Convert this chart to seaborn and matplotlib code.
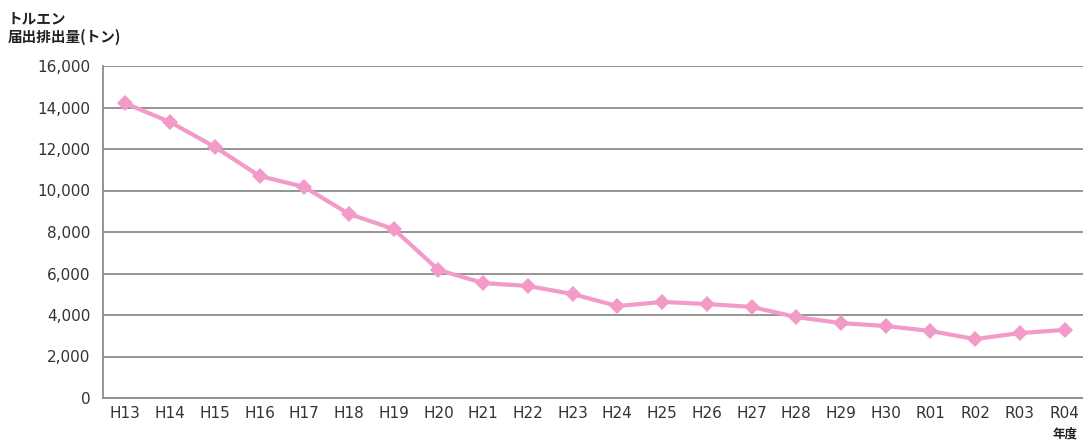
import numpy as np
import pandas as pd
import matplotlib
matplotlib.use("Agg")
import matplotlib.pyplot as plt
import seaborn as sns
from matplotlib.ticker import FixedLocator, FuncFormatter

years = ["H13", "H14", "H15", "H16", "H17", "H18", "H19", "H20", "H21", "H22", "H23",
         "H24", "H25", "H26", "H27", "H28", "H29", "H30", "R01", "R02", "R03", "R04"]
emissions = [14200, 13300, 12100, 10700, 10170, 8870, 8140, 6170, 5540, 5400, 5010,
             4430, 4630, 4530, 4390, 3900, 3610, 3470, 3230, 2840, 3130, 3280]
yticks = [0, 2000, 4000, 6000, 8000, 10000, 12000, 14000, 16000]

sns.set_theme(style="white")
plt.rcParams['font.family'] = ['Noto Sans CJK JP', 'DejaVu Sans']

df = pd.DataFrame({"year": years, "value": emissions})
df["pos"] = np.arange(len(years))

fig = plt.figure(figsize=(10.83, 4.43), dpi=100)
ax = fig.add_axes([103 / 1083, 45 / 443, 984 / 1083, 332 / 443])

sns.lineplot(data=df, x="pos", y="value", ax=ax, color="#F29BC9", linewidth=3,
             marker="D", markersize=8, markeredgewidth=0, sort=False)

ax.set_xlim(-0.5, len(years) - 0.5)
ax.set_ylim(0, 16000)
ax.set_yticks(yticks)
ax.yaxis.set_major_formatter(FuncFormatter(lambda v, p: f"{int(v):,}"))
ax.set_xticks(df["pos"])
ax.set_xticklabels(years)
ax.xaxis.set_minor_locator(FixedLocator(np.arange(-0.5, len(years), 1)))
ax.grid(axis="y", color="#8c8c8c", linewidth=1.3)
ax.set_axisbelow(True)
for s in ["top", "right"]:
    ax.spines[s].set_visible(False)
for s in ["left", "bottom"]:
    ax.spines[s].set_color("#8c8c8c")
    ax.spines[s].set_linewidth(1.3)
ax.tick_params(axis="x", which="major", length=0, colors="#333333", pad=6)
ax.tick_params(axis="x", which="minor", length=5, width=1.2, color="#8c8c8c", direction="out")
ax.tick_params(axis="y", length=5, width=1.2, color="#8c8c8c",
               labelcolor="#333333", direction="out", pad=4)
for lab in ax.get_xticklabels() + ax.get_yticklabels():
    lab.set_family("DejaVu Sans")
    lab.set_fontsize(11)
ax.set_xlabel("")
ax.set_ylabel("")

fig.text(8 / 1083, 1 - 18 / 443, "トルエン", fontsize=10.5, fontweight="bold",
         color="#222222", va="center", ha="left")
fig.text(8 / 1083, 1 - 37 / 443, "届出排出量(トン)", fontsize=10.5, fontweight="bold",
         color="#222222", va="center", ha="left")
fig.text(1065 / 1083, 1 - 434 / 443, "年度", fontsize=9, fontweight="bold",
         color="#222222", va="center", ha="center")

fig.savefig("out.png", dpi=100)
